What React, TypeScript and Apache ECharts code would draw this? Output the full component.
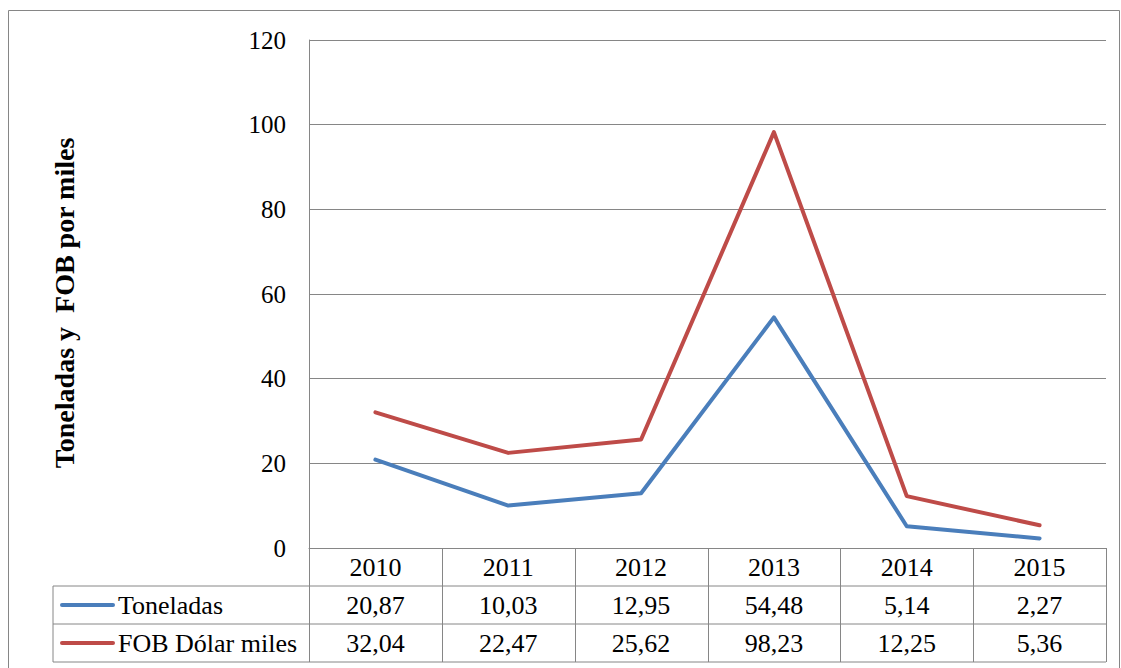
import React, { useEffect, useRef } from "react";
import * as echarts from "echarts";

const years = ["2010", "2011", "2012", "2013", "2014", "2015"];
const toneladas = [20.87, 10.03, 12.95, 54.48, 5.14, 2.27];
const fobDolarMiles = [32.04, 22.47, 25.62, 98.23, 12.25, 5.36];
const seriesNames = ["Toneladas", "FOB Dólar miles"];
const yTitle = "Toneladas y  FOB por miles";

const FONT = "Liberation Serif";
const GRAY = "#868686";
const W = 1121;
const H = 668;
const PLOT_L = 309;
const PLOT_R = 1106;
const PLOT_T = 40;
const AXIS_Y = 548;
const ROW_H = 38;
const TABLE_L = 53;

const fmt = (v: number) => v.toFixed(2).replace(".", ",");

export default function App() {
  const ref = useRef<HTMLDivElement>(null);
  useEffect(() => {
    if (!ref.current) return;
    const chart = echarts.init(ref.current, undefined, { renderer: "svg" });
    const colW = (PLOT_R - PLOT_L) / years.length;
    const tableBottom = AXIS_Y + ROW_H * 3;
    const lines: any[] = [];
    for (let r = 1; r <= 3; r++) {
      const y = AXIS_Y + ROW_H * r;
      lines.push({
        type: "line",
        shape: { x1: TABLE_L, y1: y, x2: PLOT_R, y2: y },
        style: { stroke: GRAY, lineWidth: 1 },
        silent: true,
      });
    }
    lines.push({
      type: "line",
      shape: { x1: TABLE_L, y1: AXIS_Y + ROW_H, x2: TABLE_L, y2: tableBottom },
      style: { stroke: GRAY, lineWidth: 1 },
      silent: true,
    });
    for (let k = 0; k <= years.length; k++) {
      const x = Math.round(PLOT_L + k * colW) + 0.5;
      lines.push({
        type: "line",
        shape: { x1: x, y1: AXIS_Y, x2: x, y2: tableBottom },
        style: { stroke: GRAY, lineWidth: 1 },
        silent: true,
      });
    }

    const rowAxis = (data: string[], offset: number, show: boolean) => ({
      type: "category",
      data,
      gridIndex: 0,
      position: "bottom",
      offset,
      boundaryGap: true,
      axisLine: { show, lineStyle: { color: GRAY, width: 1 } },
      axisTick: { show: false },
      axisLabel: {
        margin: 19,
        verticalAlign: "middle",
        color: "#000",
        fontFamily: FONT,
        fontSize: 26,
        interval: 0,
      },
      splitLine: { show: false },
    });

    chart.setOption({
      animation: false,
      backgroundColor: "#fff",
      textStyle: { fontFamily: FONT },
      grid: {
        left: PLOT_L,
        right: W - PLOT_R,
        top: PLOT_T,
        bottom: H - AXIS_Y,
        containLabel: false,
      },
      legend: {
        orient: "vertical",
        left: 60,
        top: AXIS_Y + ROW_H + 6,
        padding: 0,
        itemGap: 12,
        itemWidth: 55,
        itemHeight: 4,
        icon: "path://M2,0 L53,0 A2,2 0 0 1 53,4 L2,4 A2,2 0 0 1 2,0 Z",
        textStyle: {
          color: "#000",
          fontFamily: FONT,
          fontSize: 26,
          lineHeight: 26,
          padding: [0, 0, 0, -2],
        },
        data: seriesNames,
      },
      xAxis: [
        rowAxis(years, 0, true),
        rowAxis(toneladas.map(fmt), ROW_H, false),
        rowAxis(fobDolarMiles.map(fmt), ROW_H * 2, false),
      ],
      yAxis: {
        type: "value",
        min: 0,
        max: 120,
        interval: 20,
        axisLine: { show: true, lineStyle: { color: GRAY, width: 1 } },
        axisTick: { show: false },
        splitLine: { show: true, lineStyle: { color: GRAY, width: 1 } },
        axisLabel: {
          margin: 23,
          color: "#000",
          fontFamily: FONT,
          fontSize: 25,
        },
      },
      series: [
        {
          name: seriesNames[0],
          type: "line",
          data: toneladas,
          symbol: "none",
          color: "#4A7EBB",
          lineStyle: { width: 4, color: "#4A7EBB", cap: "round", join: "round" },
        },
        {
          name: seriesNames[1],
          type: "line",
          data: fobDolarMiles,
          symbol: "none",
          color: "#BE4B48",
          lineStyle: { width: 4, color: "#BE4B48", cap: "round", join: "round" },
        },
      ],
      graphic: [
        {
          type: "rect",
          shape: { x: 8.5, y: 10.5, width: 1111, height: 700 },
          style: { fill: "none", stroke: GRAY, lineWidth: 1 },
          silent: true,
          z: -1,
        },
        ...lines,
        {
          type: "text",
          x: 64,
          y: 303,
          rotation: Math.PI / 2,
          style: {
            text: yTitle,
            font: "bold 28px 'Liberation Serif'",
            fill: "#000",
            align: "center",
            verticalAlign: "middle",
          },
          silent: true,
        },
      ],
    });
    return () => chart.dispose();
  }, []);
  return (
    <div
      ref={ref}
      style={{ position: "absolute", left: 0, top: 0, width: W, height: H }}
    />
  );
}
